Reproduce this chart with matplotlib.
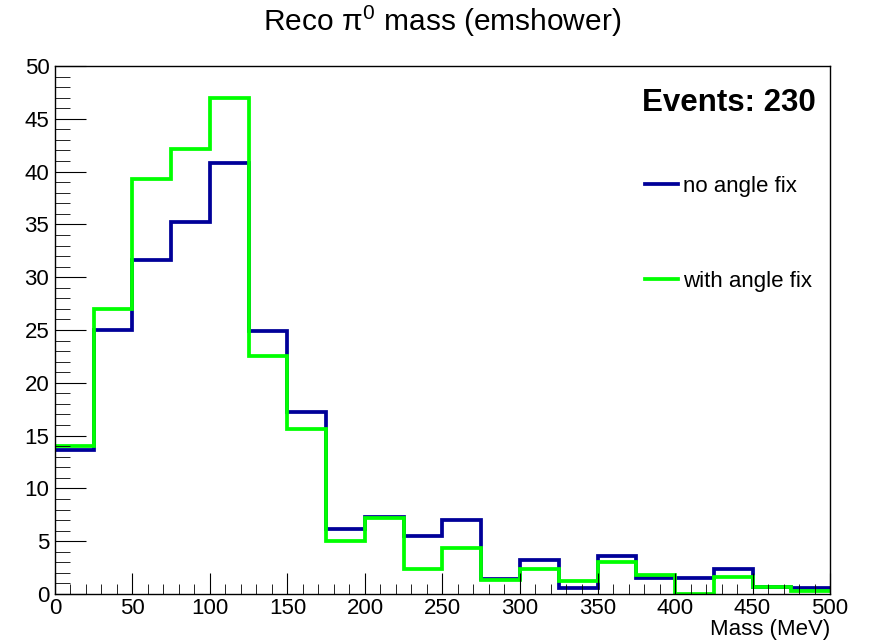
import numpy as np
import matplotlib.pyplot as plt
from matplotlib.ticker import MultipleLocator

plt.rcParams['font.family'] = ['Liberation Sans', 'DejaVu Sans']
plt.rcParams['mathtext.fontset'] = 'custom'
plt.rcParams['mathtext.rm'] = 'Liberation Sans'
plt.rcParams['mathtext.it'] = 'Liberation Sans'

# bin edges in MeV
edges = np.arange(0, 525, 25)

# reco pi0 mass histograms
no_fix = [13.6, 25.0, 31.6, 35.2, 40.8, 24.9, 17.2, 6.2, 7.3, 5.5,
          7.0, 1.4, 3.2, 0.6, 3.6, 1.5, 1.5, 2.4, 0.7, 0.55]
with_fix = [14.0, 27.0, 39.3, 42.1, 47.0, 22.5, 15.6, 5.0, 7.2, 2.4,
            4.4, 1.3, 2.4, 1.2, 3.0, 1.75, 0.0, 1.6, 0.65, 0.3]

labels = ['no angle fix', 'with angle fix']
colors = ['#000099', '#00ff00']
n_events = 230

fig = plt.figure(figsize=(8.71, 6.42), dpi=100)
ax = fig.add_axes([0.063, 0.0748, 0.89, 0.8224])

# baseline=None -> only the step outline, like ROOT's "hist" option
ax.stairs(no_fix, edges, baseline=None, color=colors[0], lw=2.7, label=labels[0])
ax.stairs(with_fix, edges, baseline=None, color=colors[1], lw=2.7, label=labels[1])

ax.set_xlim(0, 500)
ax.set_ylim(0, 50)

# ROOT-ish ticks
ax.xaxis.set_major_locator(MultipleLocator(50))
ax.xaxis.set_minor_locator(MultipleLocator(10))
ax.yaxis.set_major_locator(MultipleLocator(5))
ax.yaxis.set_minor_locator(MultipleLocator(1))
ax.tick_params(axis='both', which='both', direction='in', labelsize=16)
ax.tick_params(axis='x', which='major', length=15, pad=3)
ax.tick_params(axis='x', which='minor', length=7)
ax.tick_params(axis='y', which='major', length=22, pad=4)
ax.tick_params(axis='y', which='minor', length=11)
for s in ax.spines.values():
    s.set_linewidth(1.0)

ax.set_xlabel('Mass (MeV)', fontsize=16, loc='right', labelpad=0)
fig.text(0.508, 0.966, 'Reco $\\pi^0$ mass (emshower)', ha='center', va='center', fontsize=21.5)

ax.text(0.981, 0.930, 'Events: %d' % n_events, transform=ax.transAxes,
        ha='right', va='center', fontsize=22.5, fontweight='bold')

leg = ax.legend(loc='center left', bbox_to_anchor=(0.761, 0.682), frameon=False,
                fontsize=16, handlelength=1.5, handletextpad=0.2, labelspacing=3.3,
                borderpad=0, borderaxespad=0)

fig.savefig('out.png', dpi=100)
